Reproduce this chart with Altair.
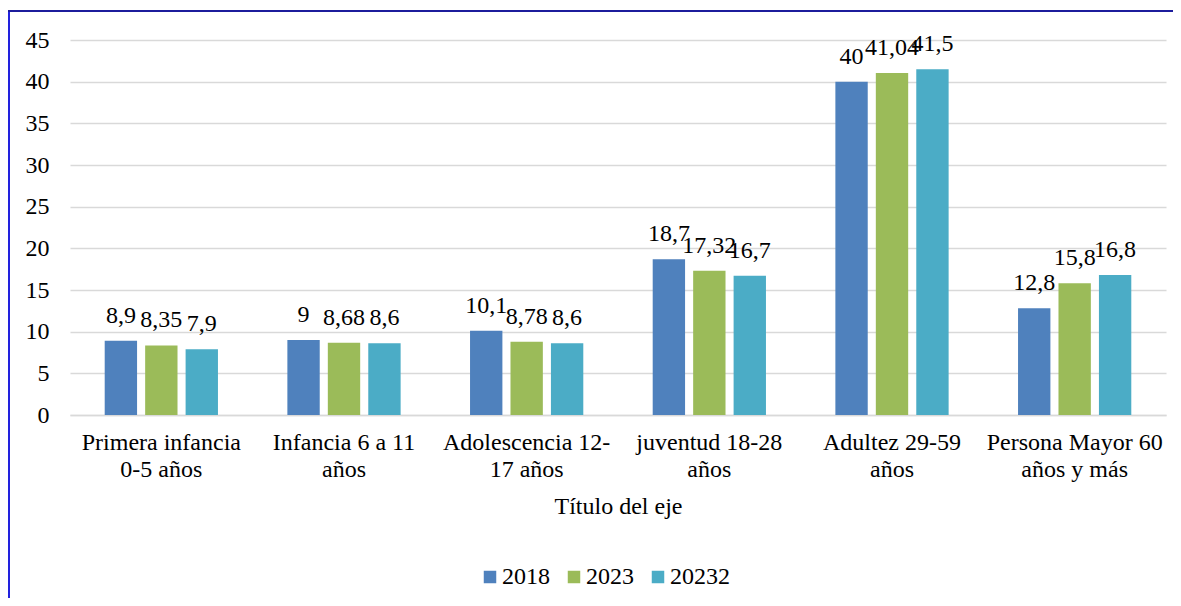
import altair as alt
import pandas as pd

categories = [
    "Primera infancia\n0-5 años",
    "Infancia 6 a 11\naños",
    "Adolescencia 12-\n17 años",
    "juventud 18-28\naños",
    "Adultez 29-59\naños",
    "Persona Mayor 60\naños y más",
]
series = ["2018", "2023", "20232"]
values_2018 = [8.9, 9, 10.1, 18.7, 40, 12.8]
values_2023 = [8.35, 8.68, 8.78, 17.32, 41.04, 15.8]
values_20232 = [7.9, 8.6, 8.6, 16.7, 41.5, 16.8]
colors = ["#4F81BD", "#9BBB59", "#4BACC6"]
y_ticks = [0, 5, 10, 15, 20, 25, 30, 35, 40, 45]

rows = []
for s, vals in zip(series, [values_2018, values_2023, values_20232]):
    for c, v in zip(categories, vals):
        rows.append({"cat": c, "series": s, "value": v,
                     "label": format(v, "g").replace(".", ",")})
df = pd.DataFrame(rows)

FONT = "Liberation Serif"
FS = 24

x_enc = alt.X("cat:N", sort=categories,
              scale=alt.Scale(paddingInner=0.38, paddingOuter=0.19),
              axis=alt.Axis(title="Título del eje", labelAngle=0,
                            labelExpr="split(datum.label, '\\n')",
                            labelFont=FONT, labelFontSize=FS, labelColor="#000000",
                            labelLineHeight=27.5, labelPadding=15,
                            titleFont=FONT, titleFontSize=FS, titleFontWeight="normal",
                            titleColor="#000000", titlePadding=13,
                            ticks=False, domainColor="#d9d9d9", domainWidth=1.5))
xoff = alt.XOffset("series:N", sort=series,
                   scale=alt.Scale(paddingInner=0.2, paddingOuter=0))
y_enc = alt.Y("value:Q",
              scale=alt.Scale(domain=[0, 45], nice=False),
              axis=alt.Axis(title=None, values=y_ticks, grid=True,
                            gridColor="#d9d9d9", gridWidth=1.5,
                            domain=False, ticks=False,
                            labelFont=FONT, labelFontSize=FS, labelColor="#000000",
                            labelPadding=21))

bars = alt.Chart(df).mark_bar().encode(
    x=x_enc, xOffset=xoff, y=y_enc,
    color=alt.Color("series:N", sort=series,
                    scale=alt.Scale(domain=series, range=colors),
                    legend=alt.Legend(title=None, orient="none", direction="horizontal",
                                      legendX=408, legendY=525,
                                      symbolType="square", symbolSize=156,
                                      symbolStrokeWidth=0,
                                      labelFont=FONT, labelFontSize=FS,
                                      labelColor="#000000", labelOffset=0,
                                      columnPadding=12)),
)

labels = alt.Chart(df).mark_text(font=FONT, fontSize=FS, color="#000000",
                                 baseline="alphabetic", dy=-18).encode(
    x=alt.X("cat:N", sort=categories), xOffset=alt.XOffset("series:N", sort=series),
    y="value:Q", text="label:N",
)

frame_left = alt.Chart(df).mark_rule(color="#2222dd", strokeWidth=2).encode(
    x=alt.value(-61), y=alt.value(-29), y2=alt.value(600))
frame_top = alt.Chart(df).mark_rule(color="#1c1c9c", strokeWidth=2).encode(
    x=alt.value(-62), x2=alt.value(1110), y=alt.value(-29))

chart = alt.layer(bars, labels, frame_left, frame_top).properties(
    width=1096, height=375,
    autosize=alt.AutoSizeParams(type="none"),
    padding={"left": 62, "top": 32, "right": 7, "bottom": 183},
).configure_view(stroke=None)

chart.save("out.html", embed_options={"renderer": "svg", "actions": False})
